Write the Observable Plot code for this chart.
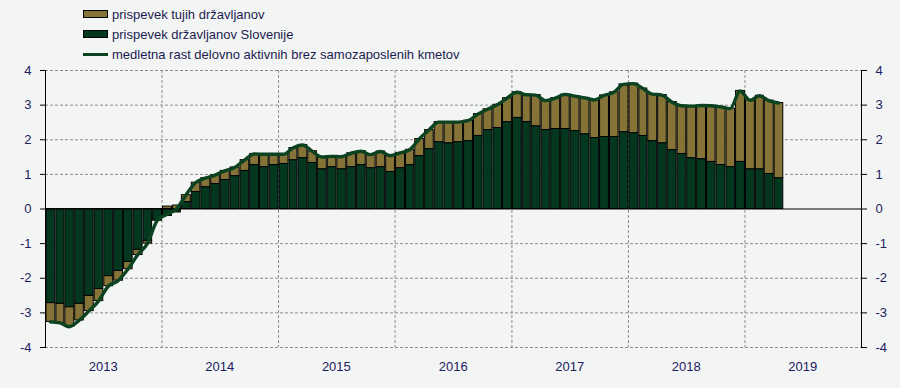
<!DOCTYPE html>
<html><head><meta charset="utf-8">
<script src="https://cdn.jsdelivr.net/npm/d3@7"></script>
<script src="https://cdn.jsdelivr.net/npm/@observablehq/plot@0.6"></script>
<style>
body{margin:0;background:#f3f5f4;}
#wrap{position:relative;width:900px;height:388px;background:#f3f5f4;font-family:"Liberation Sans",Arial,sans-serif;overflow:hidden;}
.legend{position:absolute;left:83px;top:4px;}
.row{height:20px;display:flex;align-items:center;font-size:13px;color:#1c1c50;white-space:nowrap;}
.sw{width:23px;height:6px;border:1px solid #000;margin-right:4px;}
.ln{width:25px;height:3px;margin-right:4px;}
</style></head><body><div id="wrap"></div>
<script>
// Monthly data, January 2013 – April 2019 (percentage points / %)
const domestic = [
 -2.72,-2.74,-2.84,-2.74,-2.51,-2.31,-1.94,-1.79,-1.53,-1.18,-0.92,-0.34,
 -0.20,-0.10,0.20,0.49,0.63,0.72,0.84,0.95,1.10,1.27,1.21,1.27,
 1.30,1.41,1.47,1.33,1.15,1.21,1.15,1.21,1.27,1.18,1.21,1.07,
 1.18,1.27,1.53,1.73,1.93,1.90,1.93,1.96,2.11,2.28,2.34,2.51,
 2.63,2.51,2.39,2.28,2.31,2.31,2.25,2.16,2.05,2.08,2.08,2.22,
 2.19,2.11,1.96,1.90,1.70,1.59,1.47,1.44,1.36,1.27,1.21,1.36,
 1.15,1.15,1.01,0.89];
const foreign = [
 -0.54,-0.55,-0.56,-0.48,-0.44,-0.35,-0.29,-0.28,-0.21,-0.15,-0.08,0.00,
 0.07,0.10,0.20,0.27,0.26,0.26,0.26,0.25,0.31,0.32,0.37,0.31,
 0.28,0.35,0.38,0.34,0.35,0.31,0.36,0.40,0.40,0.39,0.45,0.47,
 0.44,0.44,0.49,0.55,0.58,0.61,0.58,0.59,0.63,0.60,0.67,0.69,
 0.74,0.79,0.90,0.85,0.89,0.99,1.01,1.05,1.10,1.20,1.29,1.38,
 1.43,1.37,1.36,1.39,1.39,1.39,1.50,1.55,1.62,1.68,1.69,2.05,
 1.99,2.12,2.12,2.17];
const growth = [
 -3.26,-3.29,-3.40,-3.22,-2.95,-2.66,-2.23,-2.07,-1.74,-1.33,-1.00,-0.34,
 -0.15,0.00,0.40,0.76,0.89,0.98,1.10,1.20,1.41,1.59,1.58,1.58,
 1.58,1.76,1.85,1.67,1.50,1.52,1.51,1.61,1.67,1.57,1.66,1.54,
 1.62,1.71,2.02,2.28,2.51,2.51,2.51,2.55,2.74,2.88,3.01,3.20,
 3.37,3.30,3.29,3.13,3.20,3.31,3.26,3.21,3.15,3.28,3.37,3.60,
 3.62,3.48,3.32,3.29,3.09,2.98,2.97,2.99,2.98,2.95,2.90,3.41,
 3.14,3.27,3.13,3.06];
const years = [2013,2014,2015,2016,2017,2018,2019];
const yTicks = [-4,-3,-2,-1,0,1,2,3,4];
const seriesNames = ["prispevek tujih državljanov","prispevek državljanov Slovenije","medletna rast delovno aktivnih brez samozaposlenih kmetov"];
const colTan = "#857337", colGreen = "#03381f", colLine = "#0b4220";

const start = new Date(Date.UTC(2013,0,1));
const months = d3.utcMonth.range(start, d3.utcMonth.offset(start, domestic.length));
const bars = months.flatMap((m,i)=>[
  {date:m, series:seriesNames[1], value:domestic[i]},
  {date:m, series:seriesNames[0], value:foreign[i]}
]);
const lineData = months.map((m,i)=>({date:new Date((+m + +d3.utcMonth.offset(m,1))/2), value:growth[i]}));
const gridColor = "#8c8c8c";
const txt = "#1c2060";
const fmtY = d => String(d);

const chart = Plot.plot({
  width:900, height:388,
  marginLeft:45, marginRight:39, marginTop:70, marginBottom:41,
  style:{background:"transparent", fontFamily:"'Liberation Sans', Arial, sans-serif", fontSize:"13px", color:txt},
  x:{type:"utc", domain:[new Date(Date.UTC(years[0],0,1)), new Date(Date.UTC(years[years.length-1]+1,0,1))]},
  y:{domain:[-4,4]},
  color:{domain:[seriesNames[1], seriesNames[0]], range:[colGreen, colTan]},
  marks:[
    Plot.ruleY(yTicks.filter(d=>d!==0), {stroke:gridColor, strokeDasharray:"3,2", strokeWidth:1}),
    Plot.ruleX(years.slice(1).map(y=>new Date(Date.UTC(y,0,1))), {stroke:gridColor, strokeDasharray:"3,2", strokeWidth:1}),
    Plot.rectY(bars, {x:"date", interval:"month", y:"value", fill:"series", stroke:"#000", strokeWidth:1}),
    Plot.ruleY([0], {stroke:"#000", strokeWidth:1.2}),
    Plot.lineY(lineData, {x:"date", y:"value", stroke:colLine, strokeWidth:3.4, curve:"monotone-x"}),
    Plot.frame({anchor:"left", stroke:"#000"}),
    Plot.frame({anchor:"right", stroke:"#000"}),
    Plot.axisY({anchor:"left", ticks:yTicks, tickFormat:fmtY, tickSize:5, tickPadding:9, stroke:"#000", fill:txt, label:null}),
    Plot.axisY({anchor:"right", ticks:yTicks, tickFormat:fmtY, tickSize:5, tickPadding:9, stroke:"#000", fill:txt, label:null}),
    Plot.axisX({ticks:years.map(y=>new Date(Date.UTC(y,6,1))), tickFormat:d3.utcFormat("%Y"), tickSize:0, tickPadding:14, fill:txt, label:null})
  ]
});
const wrap = document.getElementById("wrap");
wrap.appendChild(chart);
const leg = document.createElement("div");
leg.className = "legend";
leg.innerHTML =
  `<div class="row"><div class="sw" style="background:${colTan}"></div>${seriesNames[0]}</div>`+
  `<div class="row"><div class="sw" style="background:${colGreen}"></div>${seriesNames[1]}</div>`+
  `<div class="row"><div class="ln" style="background:${colLine}"></div>${seriesNames[2]}</div>`;
wrap.appendChild(leg);
</script></body></html>
